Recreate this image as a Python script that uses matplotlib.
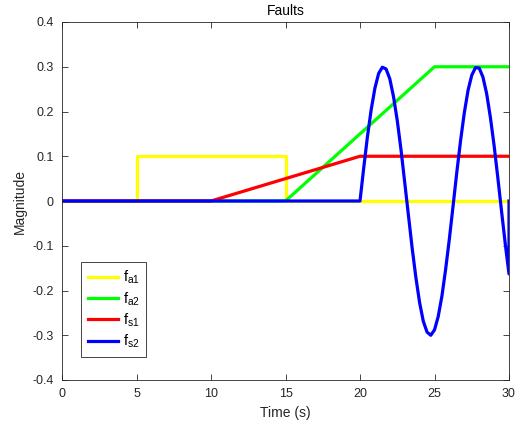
import numpy as np
import matplotlib
matplotlib.use("Agg")
import matplotlib.pyplot as plt

plt.rcParams['font.family'] = ['Liberation Sans', 'DejaVu Sans']
plt.rcParams['mathtext.fontset'] = 'custom'
plt.rcParams['mathtext.rm'] = 'Liberation Sans'

# fault signals (breakpoints)
t_a1 = [0, 5, 5, 15, 15, 30]
f_a1 = [0, 0, 0.1, 0.1, 0, 0]

t_a2 = [0, 15, 25, 30]
f_a2 = [0, 0, 0.3, 0.3]

t_s1 = [0, 10, 20, 30]
f_s1 = [0, 0, 0.1, 0.1]

# fs2: zero until 20 s, then oscillation sampled every 0.25 s, back to 0 at the end
t_s2 = [0, 20, 20.25, 20.5, 20.75, 21, 21.25, 21.5, 21.75, 22, 22.25, 22.5, 22.75,
        23, 23.25, 23.5, 23.75, 24, 24.25, 24.5, 24.75, 25, 25.25, 25.5, 25.75,
        26, 26.25, 26.5, 26.75, 27, 27.25, 27.5, 27.75, 28, 28.25, 28.5, 28.75,
        29, 29.25, 29.5, 29.75, 30, 30]
f_s2 = [0, 0, 0.074, 0.144, 0.204, 0.252, 0.285, 0.299, 0.295, 0.273, 0.233, 0.180, 0.115,
        0.042, -0.032, -0.105, -0.171, -0.227, -0.269, -0.293, -0.300, -0.288, -0.258, -0.212, -0.152,
        -0.084, -0.010, 0.065, 0.135, 0.197, 0.247, 0.281, 0.298, 0.297, 0.277, 0.240, 0.187,
        0.124, 0.052, -0.023, -0.096, -0.163, 0]

labels = [r'f$_{\mathrm{a1}}$', r'f$_{\mathrm{a2}}$', r'f$_{\mathrm{s1}}$', r'f$_{\mathrm{s2}}$']

fig = plt.figure(figsize=(5.24, 4.24), dpi=100)
ax = fig.add_axes([62/524, 1-380/424, (509-62)/524, (380-22)/424])

ax.plot(t_a1, f_a1, color=[1, 1, 0], lw=2.3, label=labels[0])
ax.plot(t_a2, f_a2, color=[0, 1, 0], lw=2.3, label=labels[1])
ax.plot(t_s1, f_s1, color=[1, 0, 0], lw=2.3, label=labels[2])
ax.plot(t_s2, f_s2, color=[0, 0, 1], lw=2.3, label=labels[3])

ax.set_xlim(0, 30)
ax.set_ylim(-0.4, 0.4)
ax.set_xticks([0, 5, 10, 15, 20, 25, 30])
ax.set_yticks([-0.4, -0.3, -0.2, -0.1, 0, 0.1, 0.2, 0.3, 0.4])
ax.set_yticklabels(['-0.4', '-0.3', '-0.2', '-0.1', '0', '0.1', '0.2', '0.3', '0.4'])
ax.tick_params(direction='in', top=True, right=True, length=4, width=0.6,
               labelsize=9, colors='#262626', pad=6)
for s in ax.spines.values():
    s.set_color('#262626')
    s.set_linewidth(0.6)

ax.set_xlabel("Time (s)", fontsize=10, color='#262626', labelpad=4)
ax.set_ylabel("Magnitude", fontsize=10, color='#262626', labelpad=4)
ax.set_title("Faults", fontsize=10, color='black', pad=5)

leg = ax.legend(loc='lower left', bbox_to_anchor=(19/447, 23/358), borderaxespad=0,
                fontsize=10.5, handlelength=2.1, handletextpad=0.3, labelspacing=0.25,
                fancybox=False, framealpha=1, edgecolor='#262626', borderpad=0.45)
leg.get_frame().set_linewidth(0.6)

fig.savefig("out.png", dpi=100)
